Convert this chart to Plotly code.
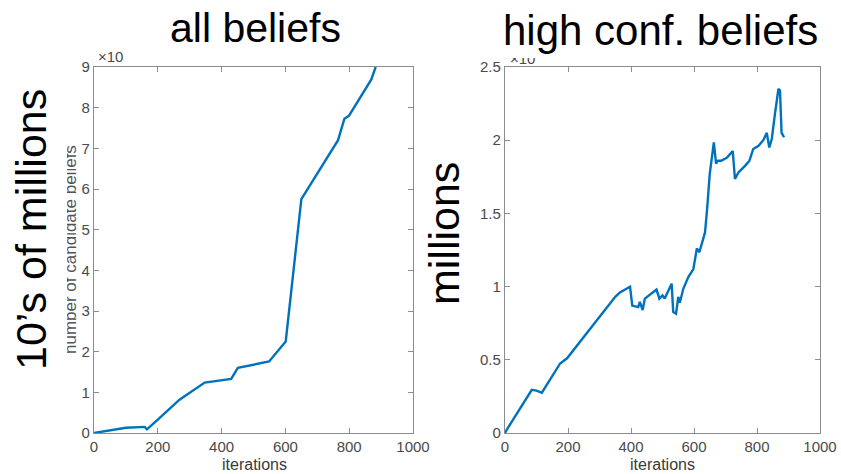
import plotly.graph_objects as go

# ---- data ----
iters_all = [0, 50, 100, 159, 166, 200, 268, 347, 430, 451, 549, 601, 650, 765, 785, 799, 869, 883]
beliefs_all = [0, 0.07, 0.13, 0.15, 0.09, 0.33, 0.82, 1.24, 1.33, 1.6, 1.76, 2.25, 5.75, 7.2, 7.73, 7.8, 8.69, 9.0]

iters_high = [0, 5, 85, 100, 117, 175, 197, 237, 269, 300, 333, 350, 365, 390, 397, 404, 423, 428,
              437, 444, 481, 490, 500, 507, 529, 534, 543, 550, 555, 566, 582, 598, 609, 617, 624,
              635, 642, 650, 663, 670, 676, 686, 704, 723, 730, 741, 762, 776, 788, 804, 820, 831,
              839, 847, 857, 868, 873, 878, 886]
beliefs_high = [0, 0.02, 0.295, 0.29, 0.275, 0.475, 0.51, 0.62, 0.70, 0.79, 0.88, 0.93, 0.96, 0.99,
                1.0, 0.87, 0.86, 0.895, 0.84, 0.918, 0.98, 0.918, 0.94, 0.918, 1.02, 0.827, 0.815,
                0.93, 0.89, 0.985, 1.065, 1.12, 1.26, 1.235, 1.29, 1.37, 1.54, 1.77, 1.985, 1.84,
                1.86, 1.86, 1.88, 1.925, 1.735, 1.78, 1.825, 1.86, 1.94, 1.96, 2.0, 2.05, 1.95,
                2.01, 2.18, 2.35, 2.34, 2.05, 2.02]

x_ticks = [0, 200, 400, 600, 800, 1000]
y_ticks_all = [0, 1, 2, 3, 4, 5, 6, 7, 8, 9]
y_ticks_high = [0, 0.5, 1, 1.5, 2, 2.5]
y_ticktext_high = ["0", "0.5", "1", "1.5", "2", "2.5"]

W, H = 841, 474
FONT = "Liberation Sans, Arial, Helvetica, sans-serif"
LINE = "#0072BD"
FRAME = "#8c8c8c"
TICKTXT = "#4a4a4a"


def px(x):
    return x / W


def py(y):
    return 1 - y / H


fig = go.Figure()
fig.add_trace(go.Scatter(x=iters_all, y=beliefs_all, mode="lines",
                         line=dict(color=LINE, width=2.4), xaxis="x", yaxis="y",
                         showlegend=False))
fig.add_trace(go.Scatter(x=iters_high, y=beliefs_high, mode="lines",
                         line=dict(color=LINE, width=2.4), xaxis="x2", yaxis="y2",
                         showlegend=False))

axis_common = dict(
    showline=True, linecolor=FRAME, linewidth=1.3, mirror="ticks",
    ticks="inside", ticklen=5, tickwidth=1, tickcolor=FRAME,
    showgrid=False, zeroline=False, automargin=False,
    tickfont=dict(family=FONT, size=15, color=TICKTXT),
)

ydom = [py(433), py(67)]
fig.update_layout(
    template="none",
    width=W, height=H, autosize=False,
    margin=dict(l=0, r=0, t=0, b=0, pad=0, autoexpand=False),
    paper_bgcolor="white", plot_bgcolor="white",
    showlegend=False,
    xaxis=dict(domain=[px(94), px(413)], range=[0, 1000], tickvals=x_ticks,
               anchor="y", **axis_common),
    yaxis=dict(domain=ydom, range=[0, 9], tickvals=y_ticks_all,
               anchor="x", **axis_common),
    xaxis2=dict(domain=[px(505), px(820)], range=[0, 1000], tickvals=x_ticks,
                anchor="y2", **axis_common),
    yaxis2=dict(domain=ydom, range=[0, 2.5], tickvals=y_ticks_high,
                ticktext=y_ticktext_high, anchor="x2", **axis_common),
)


def white_box(x0, y0, x1, y1):
    return dict(text=" ", x=px(x0), y=py(y0), xref="paper", yref="paper",
                xanchor="left", yanchor="top", showarrow=False,
                width=x1 - x0, height=y1 - y0, bgcolor="white", borderpad=0,
                borderwidth=0, font=dict(size=1))


ann = []
# x axis titles
for cx in (254, 662):
    ann.append(dict(text="iterations", x=px(cx), y=py(464), xref="paper", yref="paper",
                    xanchor="center", yanchor="middle", showarrow=False,
                    font=dict(family=FONT, size=16, color="#3a3a3a")))
# exponent labels
ann.append(dict(text="×10", x=px(96), y=py(57), xref="paper", yref="paper",
                xanchor="left", yanchor="middle", showarrow=False,
                font=dict(family=FONT, size=15, color=TICKTXT)))
ann.append(dict(text="×10", x=px(508), y=py(58), xref="paper", yref="paper",
                xanchor="left", yanchor="middle", showarrow=False,
                font=dict(family=FONT, size=15, color=TICKTXT)))
# original small y label (partly covered)
ann.append(dict(text="number of candidate beliefs", x=px(70), y=py(250), xref="paper",
                yref="paper", xanchor="center", yanchor="middle", textangle=-90,
                showarrow=False, font=dict(family=FONT, size=17, color="#555555")))
# white cover boxes (pasted-over slide regions)
ann.append(white_box(0, 80, 67, 390))
ann.append(white_box(460, 0, 841, 58))
# big overlay labels
ann.append(dict(text="10’s of millions", x=px(31), y=py(230), xref="paper", yref="paper",
                xanchor="center", yanchor="middle", textangle=-90, showarrow=False,
                font=dict(family=FONT, size=43, color="black")))
ann.append(dict(text="millions", x=px(444), y=py(233), xref="paper", yref="paper",
                xanchor="center", yanchor="middle", textangle=-90, showarrow=False,
                font=dict(family=FONT, size=43, color="black")))
ann.append(dict(text="all beliefs", x=px(256), y=py(28), xref="paper", yref="paper",
                xanchor="center", yanchor="middle", showarrow=False,
                font=dict(family=FONT, size=41, color="black")))
ann.append(dict(text="high conf. beliefs", x=px(660), y=py(30), xref="paper", yref="paper",
                xanchor="center", yanchor="middle", showarrow=False,
                font=dict(family=FONT, size=42, color="black")))
fig.update_layout(annotations=ann)

fig.write_html("out.html",
               config={"displayModeBar": False},
               post_script="document.body.style.margin='0';document.body.style.overflow='hidden';")
